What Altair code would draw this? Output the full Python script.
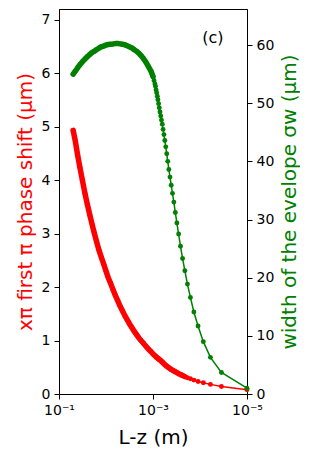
import altair as alt
import pandas as pd

# L-z (m) positions of the sampled points
lz = [0.05, 0.045, 0.04, 0.036, 0.032, 0.028, 0.025, 0.022, 0.02, 0.018,
      0.016, 0.014, 0.0125, 0.011, 0.01, 0.009, 0.008, 0.007, 0.0063, 0.0056,
      0.005, 0.0045, 0.004, 0.0036, 0.0032, 0.0028, 0.0025, 0.0022, 0.002, 0.0018,
      0.0016, 0.0014, 0.00125, 0.0011, 0.001,
      9.5e-4, 9.1e-4, 8.85e-4, 8.6e-4, 8.35e-4, 8.1e-4, 7.85e-4, 7.6e-4, 7.35e-4,
      7.1e-4, 6.85e-4, 6.6e-4, 6.35e-4, 6.1e-4, 5.85e-4,
      5.6e-4, 5.35e-4, 5.1e-4, 4.85e-4, 4.6e-4, 4.35e-4, 4.1e-4, 3.85e-4, 3.6e-4,
      3.35e-4, 3.1e-4, 2.85e-4, 2.6e-4, 2.35e-4, 2.1e-4, 1.85e-4, 1.6e-4, 1.35e-4,
      1.1e-4, 8.5e-5, 6e-5, 3.5e-5, 1e-5]

# first pi phase shift x_pi (um), red
x_pi = [4.93, 4.73, 4.46, 4.24, 4.01, 3.75, 3.55, 3.34, 3.19, 3.03,
        2.86, 2.68, 2.55, 2.41, 2.30, 2.18, 2.07, 1.94, 1.84, 1.74,
        1.64, 1.56, 1.47, 1.40, 1.32, 1.24, 1.17, 1.10, 1.05, 1.00,
        0.95, 0.89, 0.84, 0.79, 0.75,
        0.73, 0.715, 0.705, 0.695, 0.685, 0.675, 0.665, 0.655, 0.645,
        0.635, 0.625, 0.61, 0.60, 0.58, 0.565,
        0.55, 0.535, 0.52, 0.505, 0.49, 0.475, 0.46, 0.445, 0.43,
        0.415, 0.40, 0.38, 0.365, 0.345, 0.325, 0.305, 0.285, 0.26,
        0.235, 0.21, 0.18, 0.14, 0.08]

# width of the envelope sigma_w (um), green
sigma_w = [55.0, 55.5, 56.1, 56.6, 57.1, 57.6, 58.0, 58.4, 58.7, 58.9,
           59.2, 59.5, 59.7, 59.85, 60.0, 60.1, 60.15, 60.2, 60.25, 60.25,
           60.2, 60.15, 60.05, 59.9, 59.7, 59.5, 59.2, 58.9, 58.6, 58.2,
           57.7, 57.0, 56.3, 55.5, 54.6,
           53.9, 53.3, 52.9, 52.3, 51.8, 51.2, 50.6, 49.9, 49.2,
           48.5, 47.8, 47.1, 46.4, 45.5, 44.6,
           43.6, 42.5, 41.3, 40.0, 38.6, 37.3, 35.9, 34.5, 33.0,
           31.2, 29.4, 27.5, 25.4, 23.3, 21.2, 18.9, 16.6, 14.1,
           11.7, 9.0, 6.3, 3.7, 1.0]

x_ticks = [0.1, 0.001, 0.00001]
left_ticks = [0, 1, 2, 3, 4, 5, 6, 7]
right_ticks = [0, 10, 20, 30, 40, 50, 60]

panel_label = ["(c)"]
panel_x = [5.3e-5]
panel_y = [6.65]

RED = "#ff0000"
GREEN = "#008000"
FONT = "DejaVu Sans"

df = pd.DataFrame({"lz": lz, "red": x_pi, "green": sigma_w})
df_lab = pd.DataFrame({"lz": panel_x, "red": panel_y, "label": panel_label})

X = alt.X("lz:Q",
          scale=alt.Scale(type="log", domain=[1e-5, 0.1], reverse=True, nice=False),
          axis=alt.Axis(values=x_ticks, title="L-z (m)",
                        labelExpr="datum.value > 0.05 ? '10⁻¹' : (datum.value > 0.0005 ? '10⁻³' : '10⁻⁵')",
                        titleFontSize=20, titlePadding=10))

red_layer = alt.layer(
    alt.Chart(df).mark_line(color=RED, strokeWidth=1.5),
    # region where the dense markers merge into a solid band
    alt.Chart(df).mark_line(color=RED, strokeWidth=5.5, strokeCap="round",
                            strokeJoin="round").transform_filter(alt.datum.lz >= 2.0e-4),
    alt.Chart(df).mark_circle(color=RED, size=24, opacity=1),
    alt.Chart(df_lab).mark_text(fontSize=16, font=FONT, color="black",
                                align="center", baseline="middle").encode(text="label:N"),
).encode(
    x=X,
    y=alt.Y("red:Q", scale=alt.Scale(domain=[0, 7.2], nice=False, zero=False),
            axis=alt.Axis(orient="left", values=left_ticks,
                          title="xπ first π phase shift  (μm)",
                          titleColor=RED, titleFontSize=20, titlePadding=6)),
)

green_layer = alt.layer(
    alt.Chart(df).mark_line(color=GREEN, strokeWidth=1.5),
    alt.Chart(df).mark_line(color=GREEN, strokeWidth=5.5, strokeCap="round",
                            strokeJoin="round").transform_filter(alt.datum.lz >= 1.0e-3),
    alt.Chart(df).mark_circle(color=GREEN, size=24, opacity=1),
).encode(
    x=X,
    y=alt.Y("green:Q", scale=alt.Scale(domain=[0, 66.2], nice=False, zero=False),
            axis=alt.Axis(orient="right", values=right_ticks,
                          title="width of the evelope  σw  (μm)",
                          titleColor=GREEN, titleFontSize=20, titlePadding=6,
                          titleAngle=270, titleBaseline="top")),
)

chart = alt.layer(red_layer, green_layer).resolve_scale(y="independent").properties(
    width=188, height=385,
    padding={"left": 7, "top": 1, "right": 0, "bottom": 0},
).configure_view(
    stroke="black", strokeWidth=1
).configure_axis(
    grid=False, domainColor="black", tickColor="black", domainWidth=1, tickWidth=1,
    tickSize=5, labelPadding=4, labelFontSize=14, labelFont=FONT, titleFont=FONT,
    labelColor="black", titleFontWeight="normal", labelFlush=False,
)

chart.save("out.html", embed_options={"renderer": "svg", "actions": False})
